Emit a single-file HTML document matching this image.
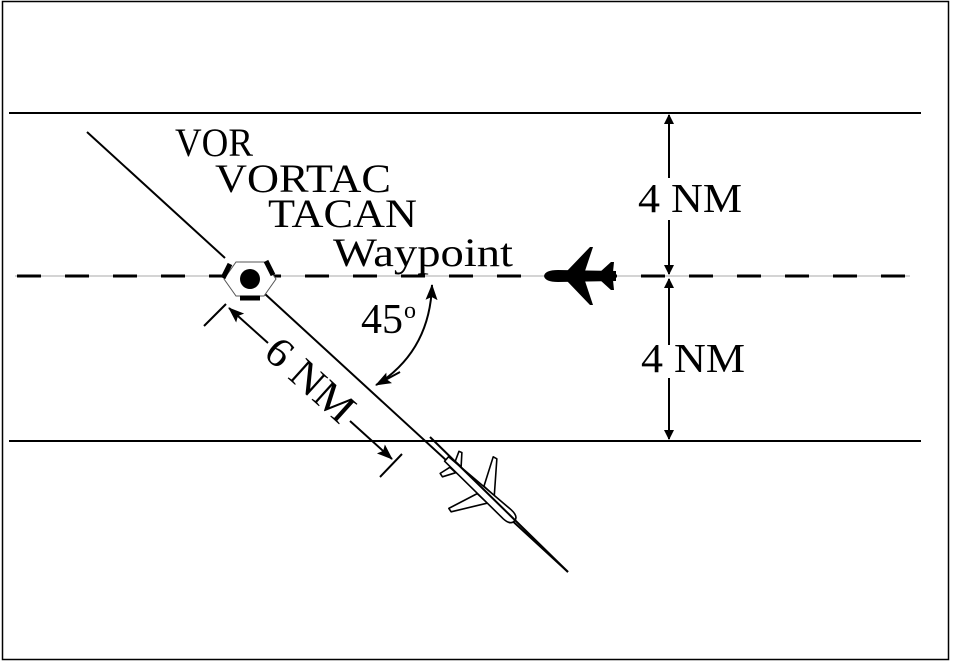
<!DOCTYPE html>
<html><head><meta charset="utf-8"><style>
html,body{margin:0;padding:0;background:#fff}
svg{display:block}
text{font-family:"Liberation Serif",serif;fill:#000}
</style></head><body>
<svg width="955" height="665" viewBox="0 0 955 665">
<defs>
<marker id="a" markerWidth="10" markerHeight="10" refX="9" refY="5" orient="auto" markerUnits="userSpaceOnUse"><path d="M0,0 L10,5 L0,10 z" fill="#000"/></marker>
<marker id="b" markerWidth="16" markerHeight="12" refX="15" refY="6" orient="auto" markerUnits="userSpaceOnUse"><path d="M0,0 L16,6 L0,12 L3,6 z" fill="#000"/></marker>
</defs>
<rect x="2.5" y="1.5" width="946" height="658" fill="none" stroke="#000" stroke-width="1.5"/>
<line x1="9" y1="113" x2="921" y2="113" stroke="#000" stroke-width="2"/>
<line x1="9" y1="441" x2="921" y2="441" stroke="#000" stroke-width="2"/>
<line x1="15" y1="276" x2="910" y2="276" stroke="#aaa" stroke-width="1"/>
<line x1="17" y1="276" x2="905" y2="276" stroke="#000" stroke-width="3" stroke-dasharray="24 24"/>
<line x1="87" y1="132" x2="225" y2="258" stroke="#000" stroke-width="2"/>
<line x1="265" y1="294" x2="568" y2="572" stroke="#000" stroke-width="2"/>
<polygon points="236,262 264,262 276,279 264,296 236,296 224,279" fill="#fff" stroke="#555" stroke-width="1"/>
<circle cx="250" cy="279" r="10" fill="#000"/>
<line x1="230" y1="264" x2="223" y2="278" stroke="#000" stroke-width="5"/>
<line x1="266" y1="261" x2="273" y2="275" stroke="#000" stroke-width="5"/>
<line x1="240" y1="298" x2="260" y2="298" stroke="#000" stroke-width="5"/>
<line x1="204" y1="326" x2="226" y2="304" stroke="#000" stroke-width="2"/>
<line x1="380" y1="477" x2="402" y2="454" stroke="#000" stroke-width="2"/>
<line x1="268" y1="343" x2="229" y2="308" stroke="#000" stroke-width="2" marker-end="url(#b)"/>
<line x1="350" y1="421" x2="392" y2="459" stroke="#000" stroke-width="2" marker-end="url(#b)"/>
<text x="0" y="0" font-size="42" transform="translate(262,355) rotate(42)" textLength="105" lengthAdjust="spacingAndGlyphs">6  NM</text>
<path d="M378,384 Q430,350 432,285" fill="none" stroke="#000" stroke-width="2" marker-end="url(#b)"/>
<path d="M400,372 L376,385" stroke="#000" stroke-width="2" marker-end="url(#b)"/>
<text x="361" y="333" font-size="42" textLength="42" lengthAdjust="spacingAndGlyphs">45</text>
<text x="404" y="318" font-size="24">o</text>
<text x="175" y="156" font-size="40" textLength="78" lengthAdjust="spacingAndGlyphs">VOR</text>
<text x="215" y="192" font-size="40" textLength="176" lengthAdjust="spacingAndGlyphs">VORTAC</text>
<text x="268" y="227" font-size="40" textLength="149" lengthAdjust="spacingAndGlyphs">TACAN</text>
<text x="333" y="266" font-size="40" textLength="180" lengthAdjust="spacingAndGlyphs">Waypoint</text>
<line x1="669" y1="178" x2="669" y2="115" stroke="#000" stroke-width="2" marker-end="url(#a)"/>
<line x1="669" y1="220" x2="669" y2="274" stroke="#000" stroke-width="2" marker-end="url(#a)"/>
<line x1="669" y1="345" x2="669" y2="279" stroke="#000" stroke-width="2" marker-end="url(#a)"/>
<line x1="669" y1="378" x2="669" y2="439" stroke="#000" stroke-width="2" marker-end="url(#a)"/>
<text x="638" y="212" font-size="41" textLength="104" lengthAdjust="spacingAndGlyphs">4  NM</text>
<text x="641" y="372" font-size="41" textLength="104" lengthAdjust="spacingAndGlyphs">4  NM</text>
<g transform="translate(580,276) rotate(180)" fill="#000">
<path d="M-36,-5 L22,-6 Q35,-6 36,0 Q35,6 22,6 L-36,5 Z"/>
<path d="M13,-5 L-10,-29 L-13,-29 L-5,-5 Z M13,5 L-10,29 L-13,29 L-5,5 Z"/>
<path d="M-20,-4 L-31,-14 L-34,-14 L-33,-4 Z M-20,4 L-31,14 L-34,14 L-33,4 Z"/>
</g>
<g transform="translate(485,494) rotate(42.4)" fill="#fff" stroke="#000" stroke-width="1.6" stroke-linejoin="round">
<path d="M8,-5 L-15,-34 L-19,-33 L-6,-5 Z"/>
<path d="M8,5 L-13,36 L-17,35 L-6,5 Z"/>
<path d="M-36,-4 L-45,-15 L-48,-14 L-44,-4 Z"/>
<path d="M-36,4 L-43,16 L-47,15 L-44,4 Z"/>
<path d="M-52,-3 L30,-6 Q40,-6 40,0 Q40,6 30,6 L-52,3 Z"/>
</g>
<line x1="430" y1="437" x2="568" y2="572" stroke="#000" stroke-width="2"/>
</svg>
</body></html>
